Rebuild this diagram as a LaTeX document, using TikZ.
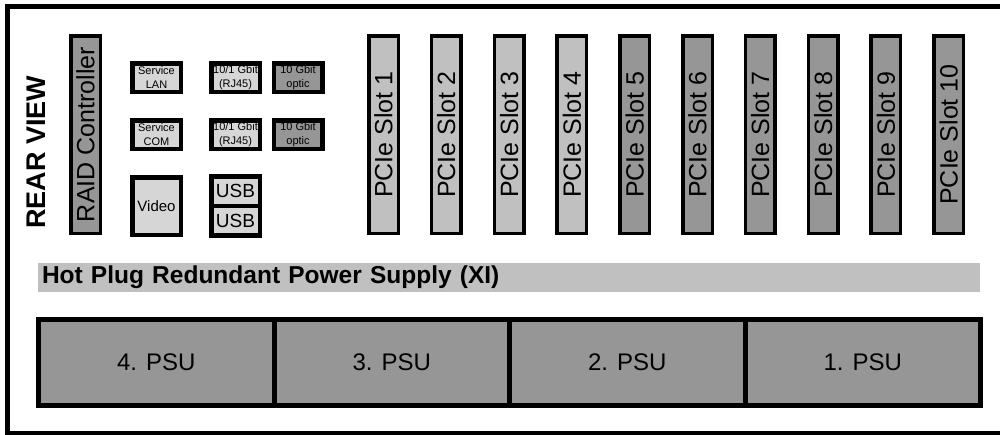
\documentclass[tikz,border=0pt]{standalone}
\usepackage{fontspec}
\setmainfont{Liberation Sans}
\usetikzlibrary{positioning}
\definecolor{slotgrey}{HTML}{C0C0C0}
\definecolor{darkgrey}{HTML}{969696}
\definecolor{palegrey}{HTML}{D6D6D6}
\tikzset{
  slot/.style={rectangle, draw=black, line width=3.5, fill=slotgrey, rotate=90,
    minimum width=197.5, minimum height=29.5, inner sep=0pt,
    font=\fontsize{25}{25}\selectfont},
  slotDark/.style={slot, fill=darkgrey},
  port/.style={rectangle, draw=black, line width=4.5, fill=palegrey,
    minimum width=48.5, minimum height=28.5, inner sep=0pt, align=center,
    font=\fontsize{11}{13.5}\selectfont},
  portDark/.style={port, fill=darkgrey},
  psu/.style={rectangle, draw=black, line width=5, fill=darkgrey,
    minimum width=235.5, minimum height=86, inner sep=0pt,
    font=\fontsize{24}{24}\selectfont},
  psbar/.style={rectangle, fill=slotgrey, minimum width=942, minimum height=29,
    text width=934, inner xsep=4, inner ysep=0pt, align=left,
    font=\bfseries\fontsize{24.5}{24.5}\selectfont},
}
\begin{document}
\begin{tikzpicture}[x=1pt, y=-1pt]
\useasboundingbox (0,0) rectangle (1000,434);
\draw[line width=5] (7.5,6.5) rectangle (1003,433.5);

\node[rotate=90, font=\bfseries\fontsize{27}{27}\selectfont] (title) at (36.5,152) {REAR VIEW};
\node[slotDark] (raid) at (85.5,134.5) {RAID Controller};

% on-board ports
\node[port] (lan) at (156.5,77.5) {Service\\LAN};
\node[port] (com) at (156.5,134.5) {Service\\COM};
\node[port] (rj1) at (235.5,77.5) {10/1 Gbit\\(RJ45)};
\node[port] (rj2) at (235.5,134.5) {10/1 Gbit\\(RJ45)};
\node[portDark] (opt1) at (298,77.5) {10 Gbit\\optic};
\node[portDark] (opt2) at (298,134.5) {10 Gbit\\optic};
\node[port, minimum height=57.5, font=\fontsize{15}{15}\selectfont] (video) at (156.5,206) {Video};
\node[port, minimum height=29.5, font=\fontsize{19}{19}\selectfont] (usb1) at (235.5,191) {USB};
\node[port, minimum height=29.5, font=\fontsize{19}{19}\selectfont] (usb2) at (235.5,220.5) {USB};

% PCIe slots
\foreach \i in {1,...,4}
  \node[slot] (slot\i) at ({383.5+(\i-1)*62.8},134.5) {PCIe Slot \i};
\foreach \i in {5,...,10}
  \node[slotDark] (slot\i) at ({383.5+(\i-1)*62.8},134.5) {PCIe Slot \i};

% power supplies
\node[psbar] (bar) at (509,277.5) {Hot Plug Redundant Power Supply (XI)};
\foreach \n [count=\k from 0] in {4,3,2,1}
  \node[psu] (psu\n) at ({156.25+\k*235.5},362.5) {\n. PSU};
\end{tikzpicture}
\end{document}
